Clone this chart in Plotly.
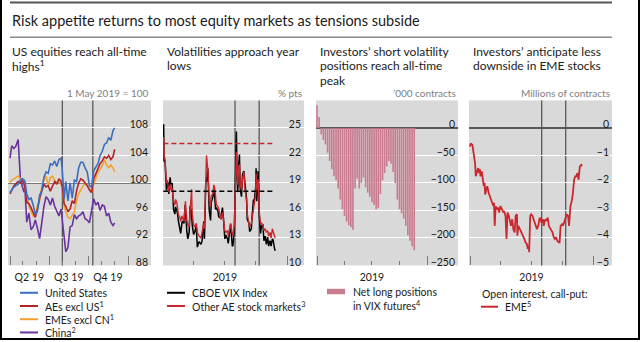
import plotly.graph_objects as go

W, H = 640, 342
def px(x):
    return x / W
def py(y):
    return 1 - y / H

# ---------------- DATA ----------------
# Panel 1: equity indices, 1 May 2019 = 100
p1_dates = ["2019-04-01","2019-04-05","2019-04-10","2019-04-15","2019-04-20","2019-04-25","2019-04-30",
            "2019-05-03","2019-05-06","2019-05-10","2019-05-15","2019-05-20","2019-05-25","2019-05-30",
            "2019-06-04","2019-06-09","2019-06-14","2019-06-19","2019-06-24","2019-06-29",
            "2019-07-04","2019-07-09","2019-07-14","2019-07-19","2019-07-24","2019-07-29",
            "2019-08-01","2019-08-05","2019-08-09","2019-08-14","2019-08-19","2019-08-24","2019-08-29",
            "2019-09-03","2019-09-08","2019-09-13","2019-09-18","2019-09-23","2019-09-28",
            "2019-10-03","2019-10-08","2019-10-13","2019-10-18","2019-10-23","2019-10-28",
            "2019-11-02","2019-11-07","2019-11-12","2019-11-17","2019-11-22","2019-11-27","2019-12-01"]
us = [98.6, 99.0, 99.4, 99.6, 99.8, 100.4, 100.6,
      100.5, 100.2, 98.4, 97.6, 97.8, 96.8, 95.4,
      95.9, 98.2, 98.9, 100.8, 101.6, 101.4,
      102.8, 102.6, 103.2, 102.4, 103.4, 103.6,
      101.8, 97.6, 100.2, 97.4, 100.0, 97.8, 100.4,
      100.2, 102.2, 103.0, 103.0, 102.2, 101.6,
      99.6, 99.4, 101.8, 102.4, 102.8, 104.0,
      104.6, 105.6, 105.8, 106.6, 106.2, 107.6, 108.0]
aes_ex_us = [98.4, 99.0, 99.6, 99.9, 100.2, 100.0, 100.3,
             100.0, 99.2, 97.2, 97.0, 96.4, 95.6, 95.0,
             96.2, 97.8, 98.8, 99.8, 99.4, 99.6,
             98.8, 99.6, 100.2, 99.8, 100.6, 100.2,
             99.4, 97.0, 96.6, 95.8, 96.2, 97.4, 97.0,
             98.8, 100.0, 100.6, 100.4, 100.0, 99.6,
             99.0, 98.6, 100.6, 101.4, 102.2, 102.8,
             103.2, 103.8, 103.6, 104.0, 103.4, 103.8, 104.9]
emes_ex_cn = [100.0, 100.4, 100.6, 100.8, 101.0, 100.6, 100.4,
              100.2, 99.4, 97.8, 96.8, 95.8, 95.2, 95.6,
              96.6, 97.4, 99.4, 100.4, 101.0, 99.6,
              100.8, 101.0, 100.4, 100.0, 100.2, 99.8,
              99.2, 96.6, 95.8, 95.0, 94.8, 95.4, 95.8,
              97.4, 98.4, 99.0, 99.6, 100.0, 99.6,
              99.0, 98.6, 99.8, 100.8, 101.6, 102.0,
              102.5, 103.4, 102.6, 102.2, 102.6, 102.2, 101.6]
china = [103.6, 105.4, 105.0, 105.4, 106.3, 100.8, 99.4,
         98.8, 99.0, 94.3, 95.6, 93.2, 93.6, 94.6,
         93.4, 91.9, 94.2, 96.6, 98.0, 97.6,
         96.8, 97.8, 96.6, 95.8, 95.2, 96.2,
         94.3, 91.9, 90.0, 90.6, 93.6, 93.8, 95.4,
         94.8, 95.2, 95.4, 95.8, 94.8, 94.6,
         94.2, 95.8, 97.7, 96.8, 97.2, 96.0,
         96.8, 96.6, 95.2, 95.6, 94.3, 93.8, 94.2]
p1_labels = ["Q2 19", "Q3 19", "Q4 19"]

# Panel 2: implied volatilities, % pts
p2_dates = ["2019-01-02","2019-01-03","2019-01-04","2019-01-07","2019-01-09","2019-01-11","2019-01-14","2019-01-16",
            "2019-01-18","2019-01-22","2019-01-24","2019-01-28","2019-01-30","2019-02-01","2019-02-05","2019-02-07",
            "2019-02-11","2019-02-13","2019-02-15","2019-02-20","2019-02-22","2019-02-26","2019-02-28","2019-03-04",
            "2019-03-07","2019-03-08","2019-03-12","2019-03-15","2019-03-19","2019-03-22","2019-03-26","2019-03-28",
            "2019-04-01","2019-04-04","2019-04-09","2019-04-12","2019-04-17","2019-04-23","2019-04-26","2019-05-01",
            "2019-05-03","2019-05-07","2019-05-09","2019-05-13","2019-05-15","2019-05-17","2019-05-21","2019-05-23",
            "2019-05-28","2019-05-31","2019-06-03","2019-06-05","2019-06-07","2019-06-12","2019-06-14","2019-06-18",
            "2019-06-21","2019-06-25","2019-06-28","2019-07-02","2019-07-05","2019-07-10","2019-07-12","2019-07-17",
            "2019-07-19","2019-07-24","2019-07-26","2019-07-30","2019-07-31","2019-08-01","2019-08-02","2019-08-05",
            "2019-08-07","2019-08-09","2019-08-12","2019-08-14","2019-08-16","2019-08-20","2019-08-23","2019-08-27",
            "2019-08-30","2019-09-04","2019-09-06","2019-09-11","2019-09-13","2019-09-18","2019-09-20","2019-09-24",
            "2019-09-27","2019-10-01","2019-10-02","2019-10-04","2019-10-08","2019-10-10","2019-10-11","2019-10-15",
            "2019-10-18","2019-10-22","2019-10-25","2019-10-29","2019-11-01","2019-11-05","2019-11-08","2019-11-12",
            "2019-11-15","2019-11-19","2019-11-21","2019-11-25","2019-11-27"]
vix = [23.2, 25.4, 21.4, 21.4, 19.9, 18.2, 19.1, 19.0,
       17.8, 19.6, 18.9, 18.9, 17.7, 16.1, 15.6, 16.4,
       15.9, 15.6, 14.9, 14.0, 13.5, 14.7, 14.8, 14.6,
       16.6, 16.1, 13.8, 12.9, 13.6, 16.5, 15.8, 14.4,
       13.4, 13.6, 14.3, 12.0, 12.6, 12.3, 12.7, 14.8,
       12.9, 19.3, 19.1, 20.6, 16.4, 16.0, 14.9, 16.9,
       17.5, 18.7, 17.0, 16.1, 16.3, 15.9, 15.3, 15.2,
       15.4, 16.3, 15.1, 12.9, 13.3, 12.9, 12.4, 13.9,
       14.5, 12.1, 12.2, 13.9, 16.1, 17.9, 17.6, 24.6,
       19.5, 18.0, 21.1, 22.1, 18.5, 17.5, 19.9, 20.3,
       19.0, 17.3, 15.0, 14.6, 13.7, 14.0, 15.3, 17.1,
       17.2, 18.6, 20.6, 17.0, 20.3, 17.6, 15.6, 13.5,
       14.3, 14.5, 12.7, 13.2, 12.3, 13.1, 12.1, 12.7,
       12.1, 12.9, 12.8, 11.9, 11.6]
other_ae = [23.5, 24.0, 22.0, 21.6, 20.2, 19.0, 19.3, 18.6,
            18.0, 18.8, 18.2, 18.4, 17.6, 17.0, 16.6, 17.2,
            16.8, 16.0, 15.6, 15.2, 14.8, 15.4, 15.2, 14.8,
            16.4, 17.0, 15.0, 14.4, 14.2, 16.0, 18.3, 15.6,
            14.4, 14.2, 14.6, 13.6, 13.2, 13.0, 13.6, 14.6,
            14.0, 18.6, 22.0, 20.4, 18.0, 17.2, 16.4, 17.6,
            17.8, 18.8, 18.2, 17.0, 16.6, 16.4, 16.2, 15.4,
            15.0, 15.8, 14.8, 13.8, 13.6, 13.8, 13.2, 14.2,
            14.6, 13.4, 13.2, 14.4, 15.6, 16.8, 18.6, 22.4,
            20.6, 18.8, 20.8, 21.0, 19.0, 18.2, 19.4, 20.2,
            18.4, 17.0, 15.6, 14.8, 14.2, 14.6, 15.2, 16.2,
            16.8, 17.8, 20.0, 18.2, 19.4, 17.6, 16.0, 14.6,
            14.6, 14.4, 13.8, 14.0, 13.6, 13.8, 13.2, 13.6,
            13.0, 14.0, 13.6, 13.2, 13.0]
vix_avg = 18.1
other_ae_avg = 23.3
avg_span = ["2019-01-02", "2019-11-27"]

# Panel 3: net long positions in VIX futures, '000 contracts (weekly)
p3_dates = ["2019-01-01","2019-01-08","2019-01-15","2019-01-22","2019-01-29","2019-02-05","2019-02-12","2019-02-19",
            "2019-02-26","2019-03-05","2019-03-12","2019-03-19","2019-03-26","2019-04-02","2019-04-09","2019-04-16",
            "2019-04-23","2019-04-30","2019-05-07","2019-05-14","2019-05-21","2019-05-28","2019-06-04","2019-06-11",
            "2019-06-18","2019-06-25","2019-07-02","2019-07-09","2019-07-16","2019-07-23","2019-07-30","2019-08-06",
            "2019-08-13","2019-08-20","2019-08-27","2019-09-03","2019-09-10","2019-09-17","2019-09-24","2019-10-01",
            "2019-10-08","2019-10-15","2019-10-22","2019-10-29","2019-11-05","2019-11-12","2019-11-19"]
net_long = [41, 20, -12, -22, -30, -45, -60, -75,
            -88, -95, -110, -130, -148, -160, -170, -177,
            -180, -185, -110, -92, -110, -100, -90, -108,
            -118, -125, -135, -140, -148, -145, -120, -95,
            -82, -70, -60, -65, -80, -100, -130, -148,
            -155, -165, -178, -195, -205, -215, -222]

# Panel 4: EME open interest, call minus put, millions of contracts
p4_dates = ["2019-01-01","2019-01-03","2019-01-08","2019-01-11","2019-01-16","2019-01-18","2019-01-21","2019-01-23",
            "2019-01-25","2019-01-28","2019-01-30","2019-02-01","2019-02-05","2019-02-08","2019-02-11","2019-02-13",
            "2019-02-15","2019-02-18","2019-02-21","2019-02-25","2019-02-28","2019-03-05","2019-03-08","2019-03-11",
            "2019-03-13","2019-03-15","2019-03-18","2019-03-20","2019-03-25","2019-03-28","2019-04-01","2019-04-05",
            "2019-04-10","2019-04-12","2019-04-16","2019-04-19","2019-04-22","2019-04-26","2019-04-29","2019-05-02",
            "2019-05-06","2019-05-09","2019-05-13","2019-05-16","2019-05-20","2019-05-21","2019-05-24","2019-05-29",
            "2019-06-03","2019-06-07","2019-06-11","2019-06-14","2019-06-18","2019-06-21","2019-06-24","2019-06-25",
            "2019-06-28","2019-07-01","2019-07-05","2019-07-08","2019-07-12","2019-07-18","2019-07-22","2019-07-25",
            "2019-07-29","2019-07-31","2019-08-05","2019-08-07","2019-08-09","2019-08-12","2019-08-15","2019-08-19",
            "2019-08-22","2019-08-27","2019-09-02","2019-09-06","2019-09-09","2019-09-13","2019-09-16","2019-09-20",
            "2019-09-23","2019-09-26","2019-09-30","2019-10-03","2019-10-07","2019-10-11","2019-10-14","2019-10-18",
            "2019-10-21","2019-10-23","2019-10-25","2019-10-29","2019-11-01","2019-11-05","2019-11-08","2019-11-11",
            "2019-11-15","2019-11-18","2019-11-20","2019-11-22","2019-11-26","2019-11-29"]
eme_oi = [-0.68, -0.56, -0.62, -0.86, -1.28, -1.76, -1.64, -1.52,
          -1.46, -1.64, -1.50, -1.76, -1.58, -1.88, -2.12, -2.00,
          -2.42, -2.24, -2.12, -2.36, -2.48, -2.60, -2.72, -2.84,
          -2.72, -3.56, -2.84, -2.96, -2.90, -3.08, -2.84, -2.96,
          -3.08, -3.02, -3.20, -4.04, -3.08, -3.20, -3.44, -3.56,
          -3.32, -3.68, -3.80, -3.20, -3.14, -3.92, -3.56, -3.68,
          -3.80, -3.92, -4.04, -4.16, -4.22, -4.40, -4.28, -4.52,
          -3.20, -3.14, -3.20, -3.32, -3.44, -3.68, -3.56, -3.32,
          -3.26, -3.44, -3.32, -3.56, -3.44, -3.32, -3.38, -3.26,
          -3.56, -3.68, -3.80, -3.98, -4.04, -3.98, -4.10, -4.16,
          -4.16, -3.56, -3.50, -3.56, -3.44, -3.26, -3.14, -3.20,
          -3.56, -3.08, -2.84, -2.66, -2.42, -1.88, -1.76, -1.76,
          -1.64, -1.88, -1.52, -1.40, -1.34, -1.38]

year_label = ["2019"]
events = ["2019-08-01", "2019-10-11"]

assert len(p1_dates) == len(us) == len(aes_ex_us) == len(emes_ex_cn) == len(china)
assert len(p2_dates) == len(vix) == len(other_ae)
assert len(p3_dates) == len(net_long)
assert len(p4_dates) == len(eme_oi)

# ---------------- STYLE ----------------
FONT = "Lato"
GRAY_BG = "#d9d9d9"
DARK = "#595959"
TICKC = "#7a7a7a"
TXT = "#1a1a1a"
C_US = "#3a6fbf"
C_AE = "#b5232a"
C_EM = "#f0a22e"
C_CN = "#6a329f"
C_BLACK = "#000000"
C_RED = "#c8282e"
C_BAR = "#c97c8f"

top, bottom = 101, 267
ydom = [py(bottom), py(top)]
panels = [(8, 151), (163, 304), (316, 458), (469, 612)]

fig = go.Figure()

for vals, col in [(china, C_CN), (emes_ex_cn, C_EM), (aes_ex_us, C_AE), (us, C_US)]:
    fig.add_trace(go.Scatter(x=p1_dates, y=vals, mode="lines", line=dict(color=col, width=1.6),
                             xaxis="x", yaxis="y"))
fig.add_trace(go.Scatter(x=p2_dates, y=vix, mode="lines", line=dict(color=C_BLACK, width=1.5),
                         xaxis="x2", yaxis="y2"))
fig.add_trace(go.Scatter(x=p2_dates, y=other_ae, mode="lines", line=dict(color=C_RED, width=1.4),
                         xaxis="x2", yaxis="y2"))
fig.add_trace(go.Scatter(x=avg_span, y=[vix_avg, vix_avg], mode="lines",
                         line=dict(color=C_BLACK, width=1.6, dash="5px,3px"), xaxis="x2", yaxis="y2"))
fig.add_trace(go.Scatter(x=avg_span, y=[other_ae_avg, other_ae_avg], mode="lines",
                         line=dict(color=C_RED, width=1.6, dash="5px,3px"), xaxis="x2", yaxis="y2"))
fig.add_trace(go.Bar(x=p3_dates, y=net_long, marker=dict(color=C_BAR, line=dict(width=0)),
                     width=5.5 * 86400000, xaxis="x3", yaxis="y3"))
fig.add_trace(go.Scatter(x=p4_dates, y=eme_oi, mode="lines", line=dict(color=C_RED, width=1.8),
                         xaxis="x4", yaxis="y4"))
for i in range(5, 9):
    fig.add_trace(go.Scatter(x=[], y=[], xaxis=f"x{i}", yaxis="y" if i == 5 else f"y{i-4}",
                             showlegend=False))

x_ranges = [["2019-03-27 08:00", "2020-02-23 14:00"],
            ["2019-01-01", "2020-02-20"],
            ["2018-12-28 16:00", "2020-04-12"],
            ["2018-12-29", "2020-02-25"]]
majors = [["2019-04-01", "2019-07-01", "2019-10-01", "2020-01-01"],
          ["2019-01-01", "2020-01-01"],
          ["2019-01-01", "2020-01-01"],
          ["2019-01-01", "2020-01-01"]]
minors = [["2019-05-01", "2019-06-01", "2019-08-01", "2019-09-01", "2019-11-01", "2019-12-01"],
          ["2019-04-01", "2019-07-01", "2019-10-01"],
          ["2019-04-01", "2019-07-01", "2019-10-01"],
          ["2019-04-01", "2019-07-01", "2019-10-01"]]
label_pos = [(["2019-05-16", "2019-08-16", "2019-11-15"], p1_labels),
             (["2019-07-02"], year_label), (["2019-07-02"], year_label), (["2019-07-02"], year_label)]
y_ranges = [[88, 112], [10, 28], [-250, 50], [-5, 1]]
y_ticks = [[88, 92, 96, 100, 104, 108], [10, 13, 16, 19, 22, 25],
           [-250, -200, -150, -100, -50, 0], [-5, -4, -3, -2, -1, 0]]
y_text = [None, None,
          ["\u2212250", "\u2212200", "\u2212150", "\u2212100", "\u221250", "0"],
          ["\u22125", "\u22124", "\u22123", "\u22122", "\u22121", "0"]]

layout = dict(width=W, height=H, margin=dict(l=0, r=0, t=0, b=0), paper_bgcolor="white",
              plot_bgcolor=GRAY_BG, showlegend=False, font=dict(family=FONT, color=TXT, size=11))
for i, ((l, r), rng, mj, mn, (lp, lt), yr, yt, ytx) in enumerate(
        zip(panels, x_ranges, majors, minors, label_pos, y_ranges, y_ticks, y_text)):
    n = "" if i == 0 else str(i + 1)
    ln = str(i + 5)
    layout["xaxis" + n] = dict(
        domain=[px(l), px(r)], range=rng, type="date", anchor="y" + n, showgrid=False, zeroline=False,
        showline=False, tickmode="array", tickvals=mj, showticklabels=False, ticks="inside", ticklen=9,
        tickwidth=1, tickcolor=TICKC, fixedrange=True,
        minor=dict(tickmode="array", tickvals=mn, ticks="inside", ticklen=4, tickwidth=1,
                   tickcolor=TICKC, showgrid=False))
    layout["xaxis" + ln] = dict(
        overlaying="x" + n, anchor="y" + n, range=rng, type="date", showgrid=False, zeroline=False,
        showline=False, tickmode="array", tickvals=lp, ticktext=lt, ticks="outside", ticklen=2,
        tickcolor="rgba(0,0,0,0)", tickfont=dict(size=10.5, color=TXT, family=FONT), fixedrange=True)
    ya = dict(domain=ydom, range=yr, anchor="x" + n, side="right", tickmode="array", tickvals=yt,
              ticklabelposition="inside top", ticklabelshift=4, ticklabeloverflow="allow",
              showgrid=True, gridcolor="white", gridwidth=1,
              zeroline=(i >= 2), zerolinecolor=DARK, zerolinewidth=1.5, ticks="", showline=False,
              tickfont=dict(size=10.5, color=TXT, family=FONT), fixedrange=True)
    if ytx:
        ya["ticktext"] = ytx
    layout["yaxis" + n] = ya

shapes = []
shapes.append(dict(type="line", xref="x domain", x0=0, x1=1, yref="y", y0=100, y1=100,
                   line=dict(color=DARK, width=1.5), layer="below"))
for ax in ["", "2", "4"]:
    for d in events:
        shapes.append(dict(type="line", xref="x" + ax, x0=d, x1=d, yref=("y" + ax) + " domain", y0=0, y1=1,
                           line=dict(color=DARK, width=1.3), layer="below"))
shapes += [
    dict(type="line", xref="paper", yref="paper", x0=px(1), x1=px(1), y0=0, y1=1, line=dict(color="black", width=2)),
    dict(type="line", xref="paper", yref="paper", x0=px(639), x1=px(639), y0=0, y1=1, line=dict(color="black", width=2)),
    dict(type="line", xref="paper", yref="paper", x0=0, x1=1, y0=py(341), y1=py(341), line=dict(color="black", width=2)),
    dict(type="line", xref="paper", yref="paper", x0=px(10), x1=px(612), y0=py(2.5), y1=py(2.5), line=dict(color="#555555", width=2)),
    dict(type="line", xref="paper", yref="paper", x0=px(10), x1=px(612), y0=py(37.5), y1=py(37.5), line=dict(color="#8a8a8a", width=1.5)),
]

ann = []
def text(x, y, s, size=11, color=TXT, xanchor="left", yanchor="middle"):
    ann.append(dict(x=px(x), y=py(y), xref="paper", yref="paper", text=s, showarrow=False,
                    xanchor=xanchor, yanchor=yanchor, font=dict(size=size, color=color, family=FONT)))

text(10, 21, "Risk appetite returns to most equity markets as tensions subside", size=14.5)
subtitles = [["US equities reach all-time", "highs<sup>1</sup>"],
             ["Volatilities approach year", "lows"],
             ["Investors\u2019 short volatility", "positions reach all-time", "peak"],
             ["Investors\u2019 anticipate less", "downside in EME stocks"]]
for (l, r), lines in zip(panels, subtitles):
    for k, s in enumerate(lines):
        text(l + 2, 51.5 + 14.5 * k, s, size=12)
units = ["1 May 2019 = 100", "% pts", "\u2019000 contracts", "Millions of contracts"]
for (l, r), s in zip(panels, units):
    text(r, 93.5, s, size=10, color="#808080", xanchor="right")

def key_line(x0, x1, y, color, width=2):
    shapes.append(dict(type="line", xref="paper", yref="paper", x0=px(x0), x1=px(x1), y0=py(y), y1=py(y),
                       line=dict(color=color, width=width)))

leg1 = [("United States", C_US), ("AEs excl US<sup>1</sup>", C_AE),
        ("EMEs excl CN<sup>1</sup>", C_EM), ("China<sup>2</sup>", C_CN)]
for k, (s, c) in enumerate(leg1):
    y = 294.5 + 13.3 * k
    key_line(20, 38, y, c)
    text(43, y, s, size=10.5)
leg2 = [("CBOE VIX Index", C_BLACK), ("Other AE stock markets<sup>3</sup>", C_RED)]
for k, (s, c) in enumerate(leg2):
    y = 294.5 + 13.3 * k
    key_line(167, 185, y, c)
    text(190, y, s, size=10.5)
shapes.append(dict(type="rect", xref="paper", yref="paper", x0=px(327), x1=px(345), y0=py(296), y1=py(290.5),
                   fillcolor=C_BAR, line=dict(width=0)))
text(351, 294, "Net long positions", size=10.5)
text(351, 307, "in VIX futures<sup>4</sup>", size=10.5)
text(480, 295.5, "Open interest, call-put:", size=10.5)
key_line(481, 498, 308.5, C_RED)
text(503, 308.5, "EME<sup>5</sup>", size=10.5)

layout["shapes"] = shapes
layout["annotations"] = ann
fig.update_layout(**layout)
fig.write_html("out.html", config={"displayModeBar": False, "staticPlot": True})
